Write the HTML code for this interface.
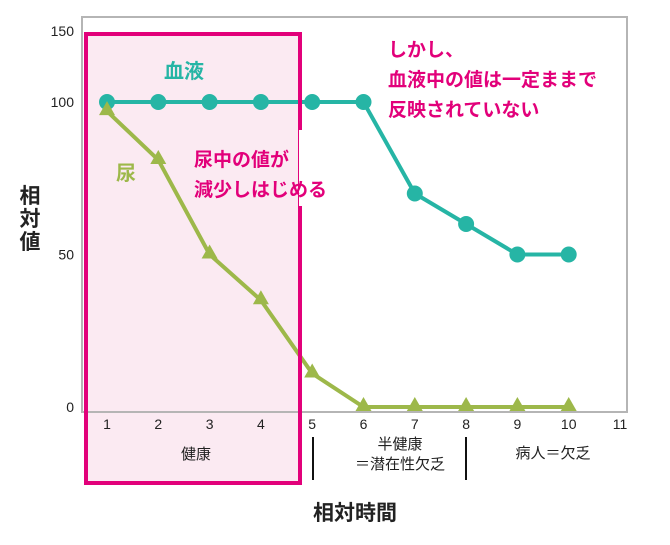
<!DOCTYPE html>
<html><head><meta charset="utf-8"><style>
body{margin:0;background:#fff;font-family:"Liberation Sans","Noto Sans CJK JP",sans-serif}
</style></head><body>
<svg id="c" width="670" height="540" viewBox="0 0 670 540" xmlns="http://www.w3.org/2000/svg" font-family="Liberation Sans, Noto Sans CJK JP, sans-serif">
<rect x="86" y="34" width="214" height="449" fill="#fbeaf2"/>
<rect x="82" y="17" width="545" height="395" fill="none" stroke="#b5b5b5" stroke-width="2"/>
<g id="ylab" font-size="14" fill="#222" text-anchor="end"></g>
<g id="xlab" font-size="14" fill="#222" text-anchor="middle"></g>
<g id="series"></g>
<rect x="299" y="130" width="46" height="76" fill="#fff"/>
<rect x="86" y="34" width="214" height="449" fill="none" stroke="#e2007a" stroke-width="4"/>
<rect x="299" y="130" width="10" height="76" fill="#fff"/>
<text x="184" y="78" font-size="20" font-weight="bold" fill="#26b5a5" text-anchor="middle">血液</text>
<text x="126" y="180" font-size="20" font-weight="bold" fill="#9db84a" text-anchor="middle">尿</text>
<g font-size="19" font-weight="bold" fill="#e2007a">
<text x="194" y="166">尿中の値が</text><text x="194" y="196">減少しはじめる</text></g>
<g font-size="19" font-weight="bold" fill="#e2007a">
<text x="388" y="56">しかし、</text><text x="388" y="86">血液中の値は一定ままで</text><text x="388" y="116">反映されていない</text></g>
<line x1="313" y1="437" x2="313" y2="480" stroke="#111" stroke-width="2"/>
<line x1="466" y1="437" x2="466" y2="480" stroke="#111" stroke-width="2"/>
<g font-size="15" fill="#222" text-anchor="middle">
<text x="196" y="459">健康</text>
<text x="400" y="449">半健康</text>
<text x="400" y="469">＝潜在性欠乏</text>
<text x="553" y="458">病人＝欠乏</text></g>
<text x="355" y="520" font-size="21" font-weight="bold" fill="#222" text-anchor="middle">相対時間</text>
<g font-size="21" font-weight="bold" fill="#222" text-anchor="middle">
<text x="30" y="203">相</text><text x="30" y="226">対</text><text x="30" y="249">値</text></g>
</svg>
<script>
const xTicks=[1,2,3,4,5,6,7,8,9,10,11];
const yTicks=[0,50,100];
const xs=[1,2,3,4,5,6,7,8,9,10];
const blood=[100,100,100,100,100,100,70,60,50,50];
const urine=[97,81,50,35,11,0,0,0,0,0];
const X=v=>107+(v-1)*51.3;
const Y=v=>407-v*3.05;
const NS="http://www.w3.org/2000/svg";
function mk(t,p,a){const e=document.createElementNS(NS,t);for(const k in a)e.setAttribute(k,a[k]);p.appendChild(e);return e;}
const yl=document.getElementById('ylab'),xl=document.getElementById('xlab'),s=document.getElementById('series');
yTicks.forEach(v=>{const t=mk('text',yl,{x:74,y:Y(v)+5});t.textContent=v;

});
const t150=mk('text',yl,{x:74,y:36});t150.textContent='150';


xTicks.forEach(v=>{const t=mk('text',xl,{x:X(v),y:429});t.textContent=v;

});
const bl=mk('polyline',s,{points:xs.map((x,i)=>X(x)+','+Y(blood[i])).join(' '),fill:'none',stroke:'#26b5a5','stroke-width':4});


const ul=mk('polyline',s,{points:xs.map((x,i)=>X(x)+','+Y(urine[i])).join(' '),fill:'none',stroke:'#9db84a','stroke-width':4});


xs.forEach((x,i)=>{const c=mk('circle',s,{cx:X(x),cy:Y(blood[i]),r:8,fill:'#26b5a5'});

});
xs.forEach((x,i)=>{const cx=X(x),cy=Y(urine[i])-2;const p=mk('polygon',s,{points:`${cx},${cy-8} ${cx-8},${cy+6} ${cx+8},${cy+6}`,fill:'#9db84a'});

});
</script>
</body></html>
